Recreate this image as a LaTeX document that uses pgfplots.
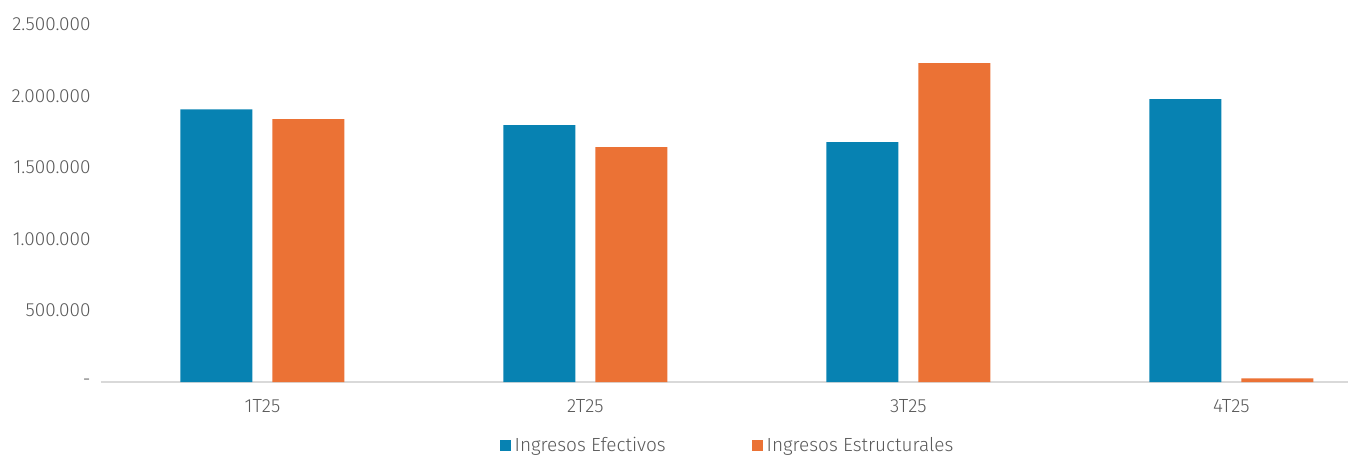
\documentclass[border=0pt]{standalone}
\usepackage{fontspec}
\setmainfont{Fira Sans}[UprightFont=* Light]
\usepackage{pgfplots}
\pgfplotsset{compat=1.18}
\definecolor{cblue}{HTML}{0782B2}
\definecolor{corange}{HTML}{EB7235}
\definecolor{ctext}{HTML}{595959}
\definecolor{caxis}{HTML}{D9D9D9}
\begin{document}
\begin{tikzpicture}
\path[use as bounding box] (0,0) rectangle (674pt,227.5pt);
\begin{axis}[
  at={(50.5pt,36.5pt)}, anchor=south west,
  scale only axis, width=623.5pt, height=178.75pt,
  xmin=-0.5, xmax=3.361, ymin=0, ymax=2500,
  ybar=10pt, bar width=36pt,
  axis x line*=bottom, axis y line*=left,
  separate axis lines,
  y axis line style={draw=none},
  x axis line style={caxis, line width=1pt, -},
  major tick length=0pt,
  xtick={0,1,2,3}, xticklabels={1T25,2T25,3T25,4T25},
  ytick={0,500,1000,1500,2000,2500},
  yticklabels={-,500.000,1.000.000,1.500.000,2.000.000,2.500.000},
  ticklabel style={font=\fontsize{9.5}{11}\selectfont, text=ctext},
  yticklabel style={inner sep=0pt, xshift=-5pt},
  xticklabel style={inner sep=0pt, yshift=-8.5pt},
  legend style={at={(0.5,-0.178)}, xshift=2pt, anchor=center, draw=none, legend columns=2,
    font=\fontsize{9.5}{11}\selectfont, text=ctext,
    /tikz/every even column/.append style={column sep=41pt}},
  legend image code/.code={\fill[#1] (0pt,-2.75pt) rectangle (5.5pt,2.75pt);},
  clip=false,
]
\addplot[fill=cblue, draw=none] coordinates {(0,1907) (1,1797) (2,1678) (3,1979)};
\addplot[fill=corange, draw=none] coordinates {(0,1839) (1,1643) (2,2229) (3,26)};
\legend{Ingresos Efectivos, Ingresos Estructurales}
\end{axis}
\end{tikzpicture}
\end{document}
